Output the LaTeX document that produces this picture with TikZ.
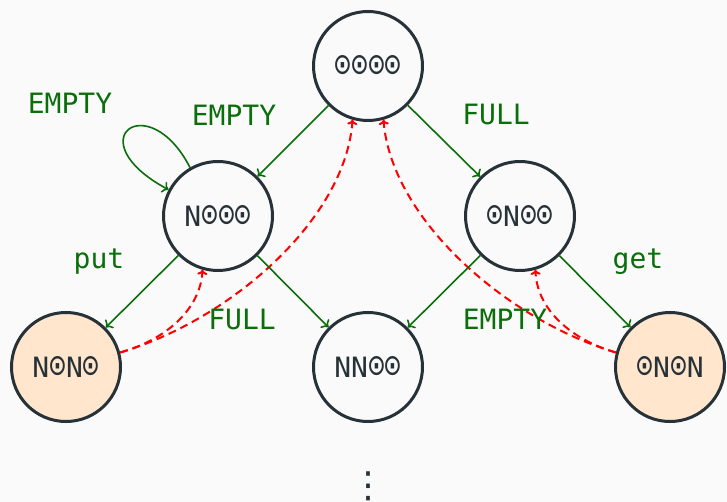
\documentclass[tikz,border=0pt]{standalone}
\usepackage{fontspec}
\usepackage{graphicx}
\newfontfamily\monofont{DejaVu Sans Mono}
\newfontfamily\dejavu{DejaVu Sans}
\usetikzlibrary{arrows.meta}
\definecolor{bgc}{HTML}{FAFAFA}
\definecolor{ink}{HTML}{263238}
\definecolor{peach}{HTML}{FFE6CC}
\definecolor{grn}{HTML}{0A6E0A}
\definecolor{rd}{HTML}{FF0000}
\newcommand{\od}{\makebox[0.602em]{\raisebox{-0.01em}{\scalebox{1.0}[1.3]{⊙}}}}
\begin{document}
\begin{tikzpicture}[x=1pt,y=-1pt,
  state/.style={circle,draw=ink,line width=3pt,minimum size=109pt,inner sep=0pt,
    text=ink,font=\monofont\fontsize{28}{34}\selectfont,fill=bgc},
  hot/.style={state,fill=peach},
  lbl/.style={text=grn,font=\monofont\fontsize{28}{34}\selectfont,inner sep=0pt},
  garrow/.style={draw=grn,line width=1.6pt,-{To[length=6pt,width=12pt]}},
  rarrow/.style={draw=rd,line width=2pt,dash pattern=on 8pt off 5pt,-{To[length=5pt,width=10pt]}}]
\fill[bgc] (0,0) rectangle (727,502);
\useasboundingbox (0,0) rectangle (727,502);
\node[state] (t) at (368,66) {\od\od\od\od};
\node[state] (a) at (218,216) {N\od\od\od};
\node[state] (b) at (520,216) {\od N\od\od};
\node[hot] (c) at (66,367) {N\od N\od};
\node[state] (d) at (368,367) {NN\od\od};
\node[hot] (e) at (670,367) {\od N\od N};
\draw[rarrow] (c.15) .. controls (165,340) and (200,310) .. (a.-106);
\draw[rarrow] (c.15) .. controls (230,320) and (345,220) .. (t.-106);
\draw[rarrow] (e.165) .. controls (507,320) and (392,220) .. (t.-74);
\draw[rarrow] (e.165) .. controls (572,340) and (537,310) .. (b.-74);
% green
\draw[garrow] (t) -- (a);
\draw[garrow] (t) -- (b);
\draw[garrow] (a) -- (c);
\draw[garrow] (a) -- (d);
\draw[garrow] (b) -- (d);
\draw[garrow] (b) -- (e);
\draw[garrow] (a.120) .. controls (148,86) and (76,140) .. (a.152);
% labels
\node[lbl] (l1) at (70,103) {EMPTY};
\node[lbl] (l2) at (234,115) {EMPTY};
\node[lbl] (l3) at (496,114) {FULL};
\node[lbl] (l4) at (99,262) {put};
\node[lbl] (l5) at (638,262) {get};
\node[lbl] (l6) at (242,319) {FULL};
\node[lbl] (l7) at (505,319) {EMPTY};
\node[text=ink,font=\dejavu\fontsize{36}{40}\selectfont,inner sep=0pt] (dots) at (368,486) {⋮};
\end{tikzpicture}
\end{document}
